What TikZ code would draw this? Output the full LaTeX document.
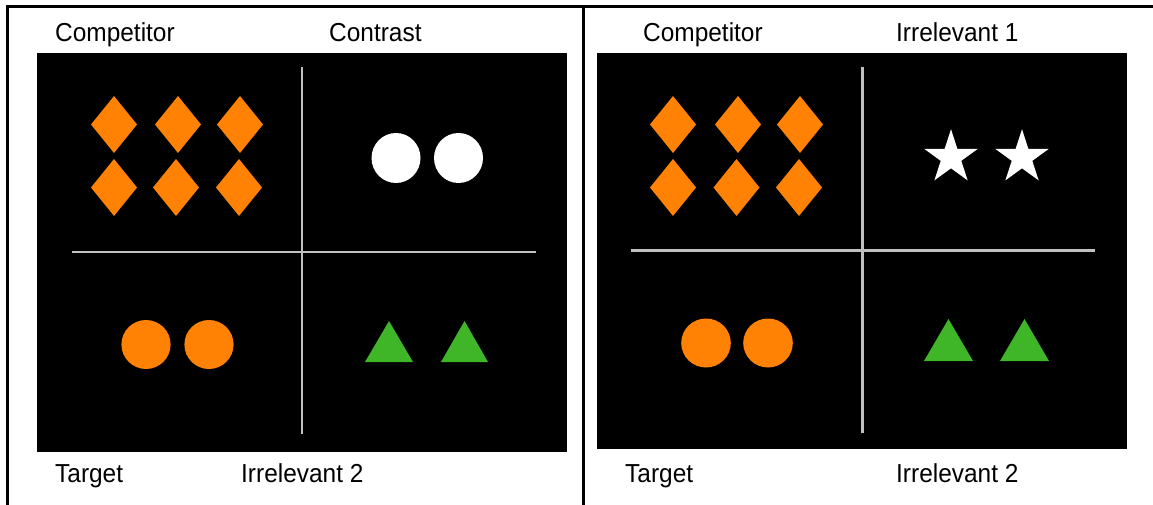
\documentclass[tikz,border=0pt]{standalone}
\usepackage{fontspec}
\setmainfont{Liberation Sans}
\usetikzlibrary{shapes.geometric}
\definecolor{shapeorange}{RGB}{255,130,5}
\definecolor{shapegreen}{RGB}{62,182,40}
\definecolor{divgray}{RGB}{192,192,192}
\begin{document}
\begin{tikzpicture}[x=1pt,y=-1pt,
  frame/.style={line width=3pt, draw=black},
  panel/.style={fill=black},
  divider/.style={draw=divgray, line width=2.5pt},
  orangefill/.style={fill=shapeorange},
  greenfill/.style={fill=shapegreen},
  whitefill/.style={fill=white},
  lbl/.style={font=\fontsize{26}{30}\selectfont, anchor=base west, inner sep=0pt, xscale=0.94},
  starshape/.style={star, star points=5, star point ratio=2.618, minimum size=56.6pt, inner sep=0pt, fill=white, draw=none}
]
\useasboundingbox (0,0) rectangle (1153,505);
% frame
\draw[frame] (6,7) -- (1153,7);
\draw[frame] (7.5,5.5) -- (7.5,505);
\draw[frame] (583.5,5.5) -- (583.5,505);

% ===== left panel =====
\fill[panel] (37,53) rectangle (567,452);
\draw[divider] (302,67) -- (302,434);
\draw[divider] (72,252) -- (536,252);
\foreach \cx/\cy in {114/124.5,178/124.5,240/124.5,114/187.5,176/187.5,239/187.5}
  \fill[orangefill] (\cx-23,\cy) -- (\cx,\cy-28.5) -- (\cx+23,\cy) -- (\cx,\cy+28.5) -- cycle;
\fill[whitefill] (396,158) ellipse [x radius=24.5, y radius=25];
\fill[whitefill] (458.5,158) ellipse [x radius=24.5, y radius=25];
\fill[orangefill] (146,344.5) ellipse [x radius=24.6, y radius=24.5];
\fill[orangefill] (209,344.5) ellipse [x radius=24.6, y radius=24.5];
\fill[greenfill] (365,362) -- (389,321) -- (413,362) -- cycle;
\fill[greenfill] (441,362) -- (464.5,321) -- (488,362) -- cycle;

\node[lbl] (lcomp) at (55,42) {Competitor};
\node[lbl] (lcontrast) at (329,42) {Contrast};
\node[lbl] (ltarget) at (55,482) {Target};
\node[lbl] (lirr2) at (241,482) {Irrelevant 2};

% ===== right panel =====
\fill[panel] (597,53) rectangle (1127,449);
\draw[divider] (862.5,67) -- (862.5,433);
\draw[divider] (631,250.5) -- (1095,250.5);
\foreach \cx/\cy in {673/124.5,738/124.5,800/124.5,673/187.5,736.5/187.5,799/187.5}
  \fill[orangefill] (\cx-23,\cy) -- (\cx,\cy-28.5) -- (\cx+23,\cy) -- (\cx,\cy+28.5) -- cycle;
\node[starshape] (star1) at (951,157.5) {};
\node[starshape] (star2) at (1022,157.5) {};
\fill[orangefill] (706,343) ellipse [x radius=24.8, y radius=24.5];
\fill[orangefill] (768,343) ellipse [x radius=24.8, y radius=24.5];
\fill[greenfill] (924,361) -- (948.5,319) -- (973,361) -- cycle;
\fill[greenfill] (1000,361) -- (1024.5,319) -- (1049,361) -- cycle;

\node[lbl] (rcomp) at (643,42) {Competitor};
\node[lbl] (rirr1) at (896,42) {Irrelevant 1};
\node[lbl] (rtarget) at (625,482) {Target};
\node[lbl] (rirr2) at (896,482) {Irrelevant 2};
\end{tikzpicture}
\end{document}
